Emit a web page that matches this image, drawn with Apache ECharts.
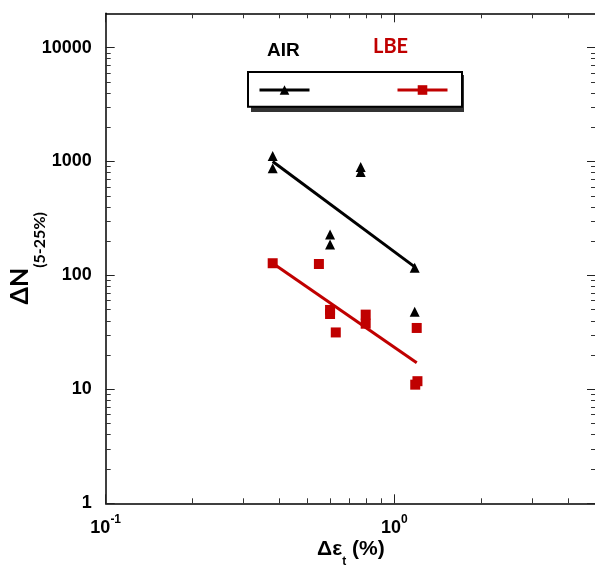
<!DOCTYPE html>
<html><head><meta charset="utf-8">
<script src="https://cdn.jsdelivr.net/npm/echarts@6/dist/echarts.min.js"></script>
<style>html,body{margin:0;padding:0;background:#fff}#c{width:595px;height:575px}</style>
</head><body><div id="c"></div>
<script>
// ---- data ----
const airX = [0.379, 0.379, 0.765, 0.765, 0.599, 0.599, 1.177, 1.177];
const airY = [1120, 872, 897, 811, 229, 187, 117, 48];
const lbeX = [0.379, 0.548, 0.599, 0.599, 0.627, 0.796, 0.796, 1.196, 1.182, 1.203];
const lbeY = [128, 126, 49.8, 45.9, 31.6, 45.3, 37.7, 34.6, 11.0, 11.8];
const airFitX = [0.379, 1.177];
const airFitY = [1000, 119];
const lbeFitX = [0.379, 1.196];
const lbeFitY = [128, 17.1];
const xMajorTicks = [0.1, 1];
const xMinorTicks = [0.2, 0.3, 0.4, 0.5, 0.6, 0.7, 0.8, 0.9, 2, 3, 4, 5];
const yMajorTicks = [1, 10, 100, 1000, 10000];
const yMinorTicks = [2,3,4,5,6,7,8,9,20,30,40,50,60,70,80,90,200,300,400,500,600,700,800,900,2000,3000,4000,5000,6000,7000,8000,9000];
const seriesNames = ['AIR', 'LBE'];
const xRange = [0.1, 5];
const yRange = [1, 20000];

const zip = (xs, ys) => xs.map((x, i) => [x, ys[i]]);
const ARIAL = 'Liberation Sans, Arial, sans-serif';
const BLACK = '#000';
const RED = '#c00000';

function axisPair(dim, pos, range, major, minor, extra) {
  const base = {
    type: 'log', logBase: 10, min: range[0], max: range[1], position: pos,
    splitLine: { show: false }, minorTick: { show: false }
  };
  const a = Object.assign({}, base, {
    axisLine: { show: true, onZero: false, lineStyle: { color: BLACK, width: 1.5 } },
    axisTick: { show: true, inside: true, length: 9, customValues: major, lineStyle: { color: '#222', width: 1 } },
    axisLabel: { show: false }
  }, extra || {});
  const b = Object.assign({}, base, {
    axisLine: { show: false },
    axisTick: { show: true, inside: true, length: 5, customValues: minor, lineStyle: { color: '#333', width: 1 } },
    axisLabel: { show: false }
  });
  return [a, b];
}

const xLabel = {
  show: true, customValues: xMajorTicks, margin: 10,
  formatter: v => '{b|10}{s|' + Math.round(Math.log10(v)) + '}',
  rich: {
    b: { fontFamily: ARIAL, fontWeight: 'bold', fontSize: 18, lineHeight: 24, verticalAlign: 'bottom', color: BLACK },
    s: { fontFamily: ARIAL, fontWeight: 'bold', fontSize: 12, lineHeight: 12, verticalAlign: 'top', color: BLACK }
  }
};
const yLabel = {
  show: true, customValues: yMajorTicks, margin: 14,
  formatter: v => String(v),
  fontFamily: ARIAL, fontWeight: 'bold', fontSize: 18, color: BLACK
};

const xAxes = [
  ...axisPair('x', 'bottom', xRange, xMajorTicks, xMinorTicks, {
    axisLabel: xLabel,
    name: '{m|Δε}{t|t}{m| (%)}{p| }', nameLocation: 'middle', nameGap: 35, nameMoveOverlap: false,
    nameTextStyle: {
      rich: {
        m: { fontFamily: ARIAL, fontWeight: 'bold', fontSize: 21, lineHeight: 24, verticalAlign: 'top', color: BLACK },
        t: { fontFamily: ARIAL, fontWeight: 'bold', fontSize: 12, lineHeight: 12, verticalAlign: 'bottom', color: BLACK },
        p: { fontSize: 1, lineHeight: 29, width: 0 }
      }
    }
  }),
  ...axisPair('x', 'top', xRange, xMajorTicks, xMinorTicks)
];
const yAxes = [
  ...axisPair('y', 'left', yRange, yMajorTicks, yMinorTicks, {
    axisLabel: yLabel,
    name: '{m|ΔN}{s|(5-25%)}{p| }', nameLocation: 'middle', nameGap: 58, nameMoveOverlap: false,
    nameTextStyle: {
      rich: {
        m: { fontFamily: 'Lato, sans-serif', fontWeight: 'bold', fontSize: 25, lineHeight: 28, verticalAlign: 'top', color: BLACK },
        s: { fontFamily: 'Lato, sans-serif', fontWeight: 'bold', fontSize: 16, lineHeight: 16, verticalAlign: 'bottom', color: BLACK },
        p: { fontSize: 1, lineHeight: 40, width: 0 }
      }
    }
  }),
  ...axisPair('y', 'right', yRange, yMajorTicks, yMinorTicks)
];

const option = {
  animation: false,
  backgroundColor: '#fff',
  grid: { left: 105.7, right: -1, top: 13.3, bottom: 71.7, containLabel: false, outerBoundsMode: 'none' },
  xAxis: xAxes,
  yAxis: yAxes,
  legend: {
    data: seriesNames,
    left: 248, top: 72,
    orient: 'horizontal',
    itemWidth: 50, itemHeight: 12, itemGap: 85,
    padding: [12, 13, 12, 10],
    formatter: () => '',
    backgroundColor: '#fff',
    borderColor: BLACK, borderWidth: 2, borderRadius: 0,
    lineStyle: { width: 3 },
    selectedMode: false
  },
  graphic: [
    { type: 'rect', left: 251, top: 75, z: 0, shape: { width: 213, height: 37 }, style: { fill: '#333' } },
    { type: 'text', left: 267, top: 41, style: { text: 'AIR', fill: BLACK, font: 'bold 19px ' + ARIAL } },
    { type: 'text', left: 373, top: 37, style: { text: 'LBE', fill: RED, font: 'bold 20px Lato, sans-serif' } }
  ],
  series: [
    { name: seriesNames[0], type: 'line', data: zip(airFitX, airFitY), symbol: 'triangle', showSymbol: false,
      lineStyle: { color: BLACK, width: 3 }, itemStyle: { color: BLACK }, z: 2 },
    { name: seriesNames[1], type: 'line', data: zip(lbeFitX, lbeFitY), symbol: 'rect', showSymbol: false,
      lineStyle: { color: RED, width: 3 }, itemStyle: { color: RED }, z: 2 },
    { name: seriesNames[0], type: 'scatter', data: zip(airX, airY), symbol: 'triangle', symbolSize: [10, 10],
      itemStyle: { color: BLACK, opacity: 1 }, z: 3 },
    { name: seriesNames[1], type: 'scatter', data: zip(lbeX, lbeY), symbol: 'rect', symbolSize: [10, 10],
      itemStyle: { color: RED, opacity: 1 }, z: 3 }
  ]
};
const chart = echarts.init(document.getElementById('c'));
chart.setOption(option);
</script></body></html>
